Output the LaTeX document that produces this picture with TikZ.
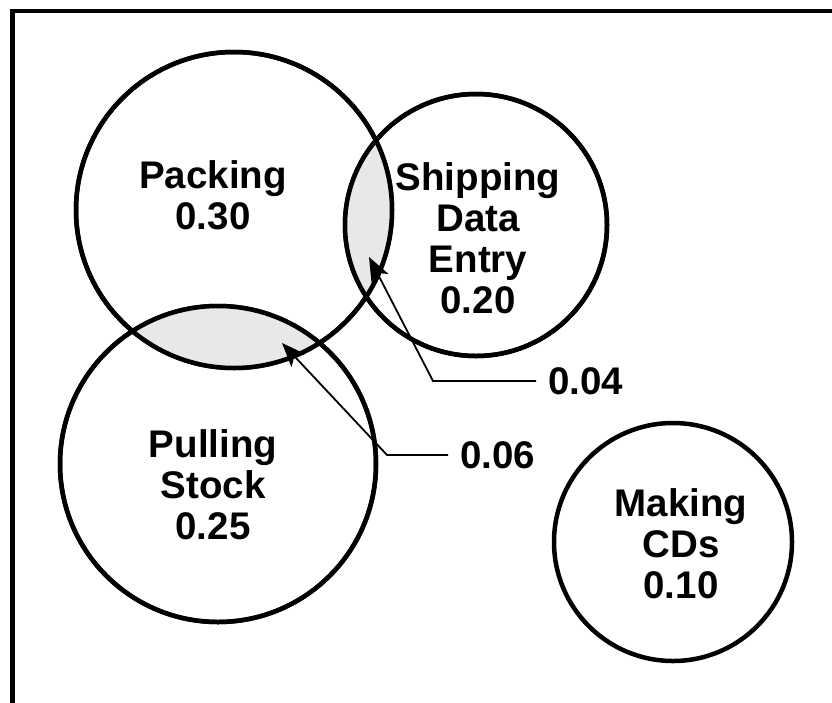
\documentclass[tikz,border=0pt]{standalone}
\usepackage{fontspec}
\setmainfont{Liberation Sans}
\usetikzlibrary{arrows.meta}

\begin{document}
\begin{tikzpicture}[x=1pt, y=-1pt,
    venn/.style={draw, circle, line width=4.5pt, inner sep=0pt},
    lens/.style={fill=black!9},
    txt/.style={font=\fontsize{38.5}{41}\selectfont\bfseries, align=center},
    lbl/.style={font=\fontsize{38.5}{41}\selectfont\bfseries, inner xsep=12pt, inner ysep=0pt, anchor=west},
    pointer/.style={line width=1.8pt, -{Stealth[length=24pt, width=19pt, inset=6pt]}}]

    \useasboundingbox (0,0) rectangle (832,702);

    % Frame (top and left only)
    \draw[line width=4.5pt] (840,11) -| (12.5,710);

    % Circles
    \node[venn, minimum size=316pt] (packing) at (234,210) {};
    \node[venn, minimum size=262pt] (shipping) at (476,225) {};
    \node[venn, minimum size=316pt] (pulling) at (218,464) {};
    \node[venn, minimum size=238pt] (making) at (673,542) {};

    % Shaded overlaps
    \begin{scope}
        \clip (packing.center) circle (158pt);
        \fill[lens] (shipping.center) circle (131pt);
        \fill[lens] (pulling.center) circle (158pt);
    \end{scope}

    % Redraw outlines over the shading
    \draw[line width=4.5pt] (packing.center) circle (158pt);
    \draw[line width=4.5pt] (shipping.center) circle (131pt);
    \draw[line width=4.5pt] (pulling.center) circle (158pt);

    % Texts
    \node[txt] (packingtxt) at (213,195) {Packing\\0.30};
    \node[txt] (shippingtxt) at (478,238) {Shipping\\Data\\Entry\\0.20};
    \node[txt] (pullingtxt) at (213,485) {Pulling\\Stock\\0.25};
    \node[txt] (makingtxt) at (681,544) {Making\\CDs\\0.10};

    % Overlap values
    \node[lbl] (lbl04) at (536,381) {0.04};
    \node[lbl] (lbl06) at (448,455) {0.06};
    \coordinate (bend04) at (433,381);
    \coordinate (tip04) at (369,257);
    \coordinate (bend06) at (387,455);
    \coordinate (tip06) at (282,343);

    \draw[pointer] (lbl04.west) -- (bend04) -- (tip04);
    \draw[pointer] (lbl06.west) -- (bend06) -- (tip06);

\end{tikzpicture}
\end{document}
